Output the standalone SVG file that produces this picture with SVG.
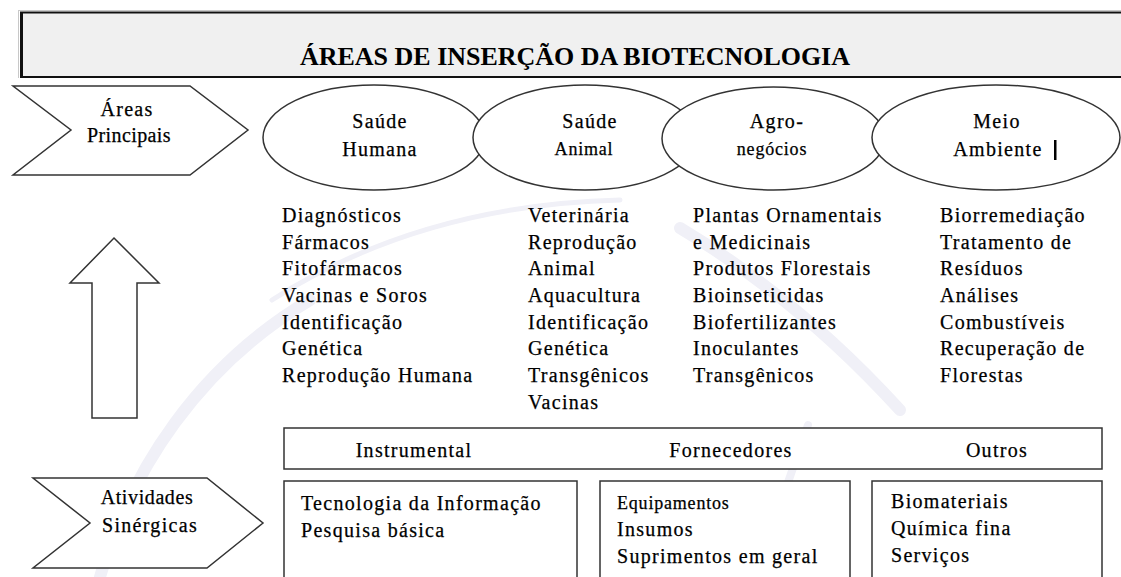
<svg xmlns="http://www.w3.org/2000/svg" width="1121" height="577" viewBox="0 0 1121 577">
<style>
  .t { font-family: "Liberation Serif", "Tinos", "Times New Roman", "DejaVu Serif", serif; font-size: 20px; fill: #000; stroke: #000; stroke-width: 0.25px; letter-spacing: 1.3px; }
  .ttl { font-family: "Liberation Serif", "Tinos", "Times New Roman", "DejaVu Serif", serif; font-size: 25px; font-weight: bold; fill: #000; }
  .c { text-anchor: middle; }
  .sm { font-size: 18px; letter-spacing: 0.8px; }
  .shape { fill: #fff; stroke: #333; stroke-width: 1.5; }
  .wm { fill: none; stroke: #f0f0f7; stroke-linecap: round; }
</style>
<rect x="0" y="0" width="1121" height="577" fill="#fff"/>
<g id="watermark">
  <path class="wm" d="M 100 577 C 130 470, 200 365, 310 300" stroke-width="12"/>
  <path class="wm" d="M 680 228 Q 800 300 900 410" stroke-width="12" stroke="#f2f2f5"/>
  <path class="wm" d="M 808 425 L 755 577" stroke-width="8"/>
  <path class="wm" d="M 272 300 Q 420 205 620 200" stroke-width="5"/>
</g>
<g id="title">
  <line x1="18" y1="10.5" x2="1121" y2="10.5" stroke="#c8c8c8" stroke-width="1"/>
  <line x1="18.5" y1="10" x2="18.5" y2="78" stroke="#c8c8c8" stroke-width="1"/>
  <rect x="21" y="12.5" width="1110" height="64.5" fill="#f0f0f0" stroke="#111" stroke-width="2"/>
  <line x1="21.5" y1="12" x2="21.5" y2="77" stroke="#111" stroke-width="3"/>
  <text class="ttl" x="300" y="65" textLength="550" lengthAdjust="spacingAndGlyphs">ÁREAS DE INSERÇÃO DA BIOTECNOLOGIA</text>
</g>
<g id="areas-principais">
  <polygon class="shape" points="13,86 190,86 248,130 190,175 13,175 71,130"/>
  <text class="t c" x="127" y="116">Áreas</text>
  <text class="t c" x="129" y="142" style="letter-spacing:0.4px">Principais</text>
</g>
<g id="seta">
  <polygon class="shape" points="114,238 159,283 137,283 137,418 92,418 92,283 70,283"/>
</g>
<g id="atividades-sinergicas">
  <polygon class="shape" points="33,478 207,478 263,523 207,568 33,568 90,523"/>
  <text class="t c" x="147" y="504" style="letter-spacing:0.6px">Atividades</text>
  <text class="t c" x="150" y="532">Sinérgicas</text>
</g>
<g id="saude-humana">
  <ellipse class="shape" cx="374" cy="137.5" rx="111" ry="52.5"/>
  <text class="t c" x="380" y="128">Saúde</text>
  <text class="t c" x="380" y="156">Humana</text>
</g>
<g id="saude-animal">
  <ellipse class="shape" cx="585" cy="137.5" rx="112" ry="52.5"/>
  <text class="t c" x="590" y="128">Saúde</text>
  <text class="t c sm" x="584" y="155">Animal</text>
</g>
<g id="agronegocios">
  <ellipse class="shape" cx="773.5" cy="138.5" rx="111.5" ry="51.5"/>
  <text class="t c" x="777" y="128">Agro-</text>
  <text class="t c sm" x="772" y="155">negócios</text>
</g>
<g id="meio-ambiente">
  <ellipse class="shape" cx="996" cy="137.5" rx="124" ry="52.5"/>
  <text class="t c" x="997" y="128">Meio</text>
  <text class="t c" x="998" y="156">Ambiente</text>
  <rect x="1054" y="140" width="2.5" height="20" fill="#000"/>
</g>
<g id="lista-saude-humana" class="t">
  <text x="282" y="222">Diagnósticos</text>
  <text x="282" y="248.7">Fármacos</text>
  <text x="282" y="275.3">Fitofármacos</text>
  <text x="282" y="302">Vacinas e Soros</text>
  <text x="282" y="328.7">Identificação</text>
  <text x="282" y="355.3">Genética</text>
  <text x="282" y="382">Reprodução Humana</text>
</g>
<g id="lista-saude-animal" class="t">
  <text x="528" y="222">Veterinária</text>
  <text x="528" y="248.7">Reprodução</text>
  <text x="528" y="275.3">Animal</text>
  <text x="528" y="302">Aquacultura</text>
  <text x="528" y="328.7">Identificação</text>
  <text x="528" y="355.3">Genética</text>
  <text x="528" y="382">Transgênicos</text>
  <text x="528" y="408.7">Vacinas</text>
</g>
<g id="lista-agronegocios" class="t">
  <text x="693" y="222">Plantas Ornamentais</text>
  <text x="693" y="248.7">e Medicinais</text>
  <text x="693" y="275.3">Produtos Florestais</text>
  <text x="693" y="302">Bioinseticidas</text>
  <text x="693" y="328.7">Biofertilizantes</text>
  <text x="693" y="355.3">Inoculantes</text>
  <text x="693" y="382">Transgênicos</text>
</g>
<g id="lista-meio-ambiente" class="t">
  <text x="940" y="222">Biorremediação</text>
  <text x="940" y="248.7">Tratamento de</text>
  <text x="940" y="275.3">Resíduos</text>
  <text x="940" y="302">Análises</text>
  <text x="940" y="328.7">Combustíveis</text>
  <text x="940" y="355.3">Recuperação de</text>
  <text x="940" y="382">Florestas</text>
</g>
<g id="cabecalho-atividades">
  <rect class="shape" x="284" y="428" width="818" height="41"/>
  <text class="t c" x="414" y="457">Instrumental</text>
  <text class="t c" x="731" y="457">Fornecedores</text>
  <text class="t c" x="997" y="457">Outros</text>
</g>
<g id="instrumental">
  <rect class="shape" x="284" y="481" width="293" height="110"/>
  <text class="t" x="301" y="510">Tecnologia da Informação</text>
  <text class="t" x="301" y="537">Pesquisa básica</text>
</g>
<g id="fornecedores">
  <rect class="shape" x="600" y="481" width="250" height="110"/>
  <text class="t sm" x="617" y="509">Equipamentos</text>
  <text class="t" x="617" y="536">Insumos</text>
  <text class="t" x="617" y="563">Suprimentos em geral</text>
</g>
<g id="outros">
  <rect class="shape" x="872" y="481" width="230" height="110"/>
  <text class="t" x="891" y="508">Biomateriais</text>
  <text class="t" x="891" y="535">Química fina</text>
  <text class="t" x="891" y="562">Serviços</text>
</g>
<g id="connectors"></g>
</svg>
